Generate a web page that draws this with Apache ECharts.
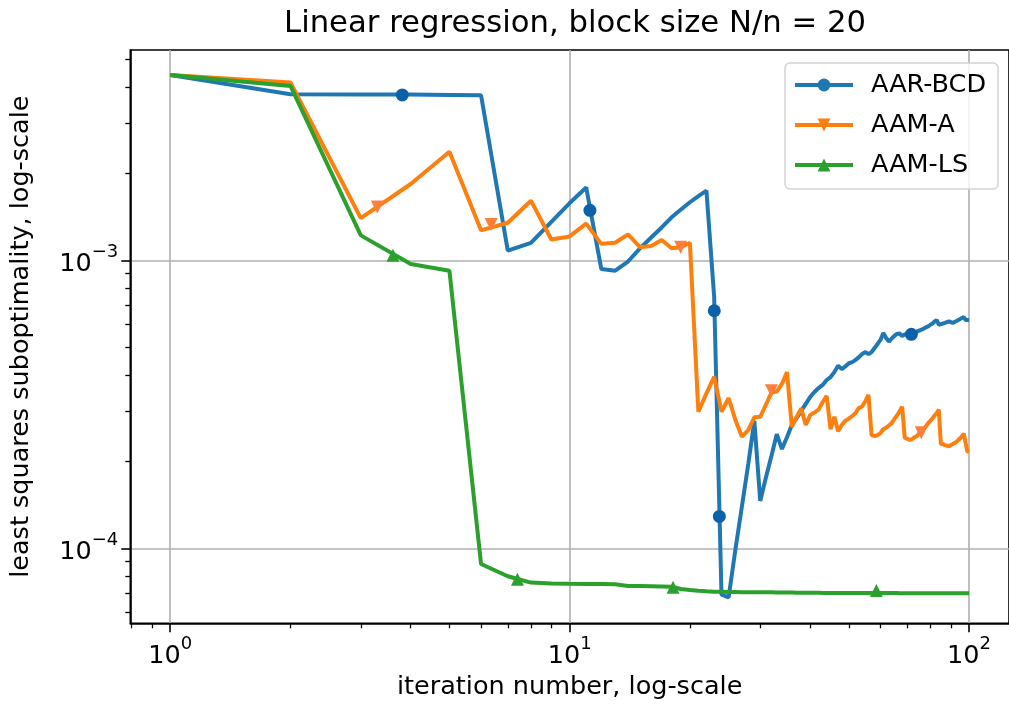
<!DOCTYPE html>
<html>
<head>
<meta charset="utf-8">
<script src="https://cdn.jsdelivr.net/npm/echarts@6/dist/echarts.min.js"></script>
<style>
html,body{margin:0;padding:0;background:#fff;}
#chart{width:1009px;height:709px;}
</style>
</head>
<body>
<div id="chart"></div>
<script>
// ---- data ----
const iterations = [1,2,3,4,5,6,7,8,9,10,11,12,13,14,15,16,17,18,19,20,
  21,22,23,24,25,26,27,28,29,30,31,32,33,34,35,36,37,38,39,40,
  41,42,43,44,45,46,47,48,49,50,51,52,53,54,55,56,57,58,59,60,
  61,62,63,64,65,66,67,68,69,70,71,72,73,74,75,76,77,78,79,80,
  81,82,83,84,85,86,87,88,89,90,91,92,93,94,95,96,97,98,99,100];

const aarBcd = [4.40e-3,3.77e-3,3.76e-3,3.76e-3,3.75e-3,3.74e-3,1.08e-3,1.15e-3,1.36e-3,1.58e-3,
  1.79e-3,0.933e-3,0.92e-3,0.99e-3,1.10e-3,1.20e-3,1.30e-3,1.41e-3,1.50e-3,1.59e-3,
  1.67e-3,1.745e-3,7.5e-4,6.9e-5,6.75e-5,9.9e-5,1.40e-4,1.96e-4,2.77e-4,1.46e-4,
  1.76e-4,2.09e-4,2.49e-4,2.21e-4,2.43e-4,2.68e-4,2.83e-4,3.00e-4,3.17e-4,3.35e-4,
  3.49e-4,3.60e-4,3.69e-4,3.84e-4,3.93e-4,4.09e-4,4.30e-4,4.19e-4,4.28e-4,4.39e-4,
  4.43e-4,4.51e-4,4.61e-4,4.73e-4,4.80e-4,4.72e-4,4.80e-4,4.96e-4,5.12e-4,5.29e-4,
  5.59e-4,5.37e-4,5.22e-4,5.35e-4,5.46e-4,5.55e-4,5.57e-4,5.46e-4,5.53e-4,5.55e-4,
  5.55e-4,5.55e-4,5.60e-4,5.65e-4,5.70e-4,5.74e-4,5.79e-4,5.85e-4,5.89e-4,5.97e-4,
  6.03e-4,6.13e-4,6.20e-4,5.97e-4,6.00e-4,6.03e-4,6.06e-4,6.08e-4,6.13e-4,6.10e-4,
  6.06e-4,6.10e-4,6.15e-4,6.20e-4,6.25e-4,6.30e-4,6.35e-4,6.20e-4,6.16e-4,6.20e-4];

const aamA = [4.40e-3,4.14e-3,1.40e-3,1.84e-3,2.38e-3,1.27e-3,1.35e-3,1.61e-3,1.18e-3,1.21e-3,
  1.34e-3,1.14e-3,1.15e-3,1.23e-3,1.11e-3,1.12e-3,1.176e-3,1.10e-3,1.11e-3,1.15e-3,
  2.98e-4,3.45e-4,3.94e-4,2.98e-4,3.32e-4,2.79e-4,2.44e-4,2.57e-4,2.85e-4,2.86e-4,
  3.15e-4,3.47e-4,3.50e-4,3.72e-4,4.09e-4,2.64e-4,2.86e-4,3.06e-4,2.68e-4,2.90e-4,
  2.96e-4,3.03e-4,3.22e-4,3.38e-4,2.59e-4,2.86e-4,2.55e-4,2.68e-4,2.77e-4,2.82e-4,
  2.88e-4,2.95e-4,3.07e-4,3.11e-4,3.24e-4,3.41e-4,2.47e-4,2.45e-4,2.47e-4,2.51e-4,
  2.59e-4,2.62e-4,2.67e-4,2.72e-4,2.81e-4,2.89e-4,2.99e-4,3.10e-4,2.42e-4,2.40e-4,
  2.38e-4,2.39e-4,2.43e-4,2.45e-4,2.51e-4,2.55e-4,2.60e-4,2.65e-4,2.72e-4,2.77e-4,
  2.83e-4,2.89e-4,2.95e-4,3.03e-4,2.30e-4,2.30e-4,2.28e-4,2.27e-4,2.26e-4,2.28e-4,
  2.30e-4,2.32e-4,2.34e-4,2.37e-4,2.41e-4,2.45e-4,2.50e-4,2.52e-4,2.17e-4,2.16e-4];

const aamLs = [4.40e-3,4.03e-3,1.22e-3,0.97e-3,0.92e-3,8.82e-5,8.0e-5,7.6e-5,7.55e-5,7.53e-5,
  7.52e-5,7.51e-5,7.50e-5,7.40e-5,7.39e-5,7.38e-5,7.37e-5,7.36e-5,7.22e-5,7.16e-5,
  7.12e-5,7.09e-5,7.07e-5,7.06e-5,7.05e-5,7.05e-5,7.04e-5,7.04e-5,7.04e-5,7.03e-5,
  7.03e-5,7.03e-5,7.02e-5,7.02e-5,7.02e-5,7.02e-5,7.01e-5,7.01e-5,7.01e-5,7.01e-5,
  7.01e-5,7.01e-5,7.00e-5,7.00e-5,7.00e-5,7.00e-5,7.00e-5,7.00e-5,7.00e-5,7.00e-5,
  7.00e-5,6.99e-5,6.99e-5,6.99e-5,6.99e-5,6.99e-5,6.99e-5,6.99e-5,6.99e-5,6.99e-5,
  6.99e-5,6.99e-5,6.99e-5,6.99e-5,6.99e-5,6.99e-5,6.98e-5,6.98e-5,6.98e-5,6.98e-5,
  6.98e-5,6.98e-5,6.98e-5,6.98e-5,6.98e-5,6.98e-5,6.98e-5,6.98e-5,6.98e-5,6.98e-5,
  6.98e-5,6.98e-5,6.98e-5,6.98e-5,6.98e-5,6.98e-5,6.98e-5,6.98e-5,6.98e-5,6.98e-5,
  6.98e-5,6.98e-5,6.98e-5,6.98e-5,6.98e-5,6.98e-5,6.98e-5,6.98e-5,6.98e-5,6.98e-5];

// marker positions (matplotlib markevery places them along the line)
const bcdMarkX = [3.81, 11.24, 23.02, 23.7, 71.7];
const bcdMarkY = [3.75e-3, 1.49e-3, 6.68e-4, 1.29e-4, 5.53e-4];
const aMarkX = [3.30, 6.36, 18.96, 32.0, 75.9];
const aMarkY = [1.53e-3, 1.33e-3, 1.11e-3, 3.52e-4, 2.52e-4];
const lsMarkX = [3.61, 7.40, 18.15, 58.6];
const lsMarkY = [1.04e-3, 7.8e-5, 7.32e-5, 7.13e-5];

// axis ticks
const xMajorTicks = [1, 10, 100];
const xMinorTicks = [0.8, 0.9, 2, 3, 4, 5, 6, 7, 8, 9, 20, 30, 40, 50, 60, 70, 80, 90];
const yMajorTicks = [1e-4, 1e-3];
const yMinorTicks = [6e-5, 7e-5, 8e-5, 9e-5, 2e-4, 3e-4, 4e-4, 5e-4, 6e-4, 7e-4, 8e-4, 9e-4, 2e-3, 3e-3, 4e-3, 5e-3];
const xRange = [0.7943, 125.89];
const yRange = [5.49e-5, 5.37e-3];

const seriesNames = ['AAR-BCD', 'AAM-A', 'AAM-LS'];
const colors = ['#1f77b4', '#ff7f0e', '#2ca02c'];
const markerColors = ['#0b61aa', '#ff7f3a', '#2ca02c'];

// ---- chart ----
const FONT = 'DejaVu Sans';
const zip = (xs, ys) => xs.map((x, i) => [x, ys[i]]);

function powLabel(v) {
  const e = Math.round(Math.log10(v));
  const s = e < 0 ? '\u2212' + (-e) : String(e);
  return '{b|10}{s|' + s + '}';
}
const richPow = {
  b: { fontFamily: FONT, fontSize: 25.5, color: '#000', lineHeight: 34, verticalAlign: 'bottom' },
  s: { fontFamily: FONT, fontSize: 18, color: '#000', lineHeight: 34, verticalAlign: 'top' }
};

const chart = echarts.init(document.getElementById('chart'), null, { renderer: 'canvas' });

function lineSeries(i, data, symbol, rot) {
  return {
    name: seriesNames[i], type: 'line', data: zip(iterations, data),
    xAxisIndex: 0, yAxisIndex: 0,
    symbol: symbol, symbolRotate: rot, symbolSize: 13, showSymbol: false,
    lineStyle: { width: 4, color: colors[i] },
    itemStyle: { color: colors[i] },
    emphasis: { disabled: true }, silent: true, z: 3 + i
  };
}
function markSeries(i, xs, ys, symbol, rot) {
  return {
    name: seriesNames[i] + ' markers', type: 'scatter', data: zip(xs, ys),
    xAxisIndex: 0, yAxisIndex: 0,
    symbol: symbol, symbolRotate: rot, symbolSize: 13,
    itemStyle: { color: markerColors[i], opacity: 1 },
    emphasis: { disabled: true }, silent: true, z: 3 + i
  };
}

const option = {
  animation: false,
  backgroundColor: '#fff',
  title: {
    text: 'Linear regression, block size N/n = 20',
    left: 570, top: 4, textAlign: 'center',
    textStyle: { fontFamily: FONT, fontSize: 30.7, fontWeight: 'normal', color: '#000' }
  },
  grid: {
    left: 130.3, top: 50, width: 880.7, bottom: 85.7,
    show: true, borderColor: '#000', borderWidth: 1.6, backgroundColor: 'transparent'
  },
  legend: {
    data: seriesNames,
    orient: 'vertical', left: 785, top: 63,
    padding: [8, 12, 10, 8],
    itemWidth: 58, itemHeight: 16, itemGap: 12,
    backgroundColor: 'rgba(255,255,255,0.8)',
    borderColor: '#d3d3d3', borderWidth: 1.5, borderRadius: 5,
    lineStyle: { width: 4 },
    textStyle: { fontFamily: FONT, fontSize: 25.5, color: '#000', lineHeight: 28, padding: [0, 0, 0, 13] },
    selectedMode: false
  },
  xAxis: [
    {
      type: 'log', logBase: 10, min: xRange[0], max: xRange[1], position: 'bottom',
      name: 'iteration number, log-scale', nameLocation: 'middle', nameGap: 50,
      nameTextStyle: { fontFamily: FONT, fontSize: 25.5, color: '#000' },
      axisLine: { show: true, onZero: false, lineStyle: { color: '#000', width: 1.6 } },
      axisTick: { show: true, length: 9, lineStyle: { color: '#000', width: 1.6 }, customValues: xMajorTicks },
      axisLabel: { show: true, margin: 12, customValues: xMajorTicks, formatter: powLabel, rich: richPow },
      splitLine: { show: true, lineStyle: { color: '#b0b0b0', width: 1.6 } },
      minorTick: { show: false }
    },
    {
      type: 'log', logBase: 10, min: xRange[0], max: xRange[1], position: 'bottom',
      axisLine: { show: false, onZero: false },
      axisTick: { show: true, length: 5, lineStyle: { color: '#000', width: 1.3 }, customValues: xMinorTicks },
      axisLabel: { show: false },
      splitLine: { show: false }
    }
  ],
  yAxis: [
    {
      type: 'log', logBase: 10, min: yRange[0], max: yRange[1], position: 'left',
      name: 'least squares suboptimality, log-scale', nameLocation: 'middle', nameGap: 96,
      nameTextStyle: { fontFamily: FONT, fontSize: 25.5, color: '#000' },
      axisLine: { show: true, onZero: false, lineStyle: { color: '#000', width: 1.6 } },
      axisTick: { show: true, length: 9, lineStyle: { color: '#000', width: 1.6 }, customValues: yMajorTicks },
      axisLabel: { show: true, margin: 12, customValues: yMajorTicks, formatter: powLabel, rich: richPow },
      splitLine: { show: true, lineStyle: { color: '#b0b0b0', width: 1.6 } },
      minorTick: { show: false }
    },
    {
      type: 'log', logBase: 10, min: yRange[0], max: yRange[1], position: 'left',
      axisLine: { show: false, onZero: false },
      axisTick: { show: true, length: 5, lineStyle: { color: '#000', width: 1.3 }, customValues: yMinorTicks },
      axisLabel: { show: false },
      splitLine: { show: false }
    }
  ],
  series: [
    lineSeries(0, aarBcd, 'circle', 0),
    lineSeries(1, aamA, 'triangle', 180),
    lineSeries(2, aamLs, 'triangle', 0),
    markSeries(0, bcdMarkX, bcdMarkY, 'circle', 0),
    markSeries(1, aMarkX, aMarkY, 'triangle', 180),
    markSeries(2, lsMarkX, lsMarkY, 'triangle', 0)
  ]
};
chart.setOption(option);
</script>
</body>
</html>
